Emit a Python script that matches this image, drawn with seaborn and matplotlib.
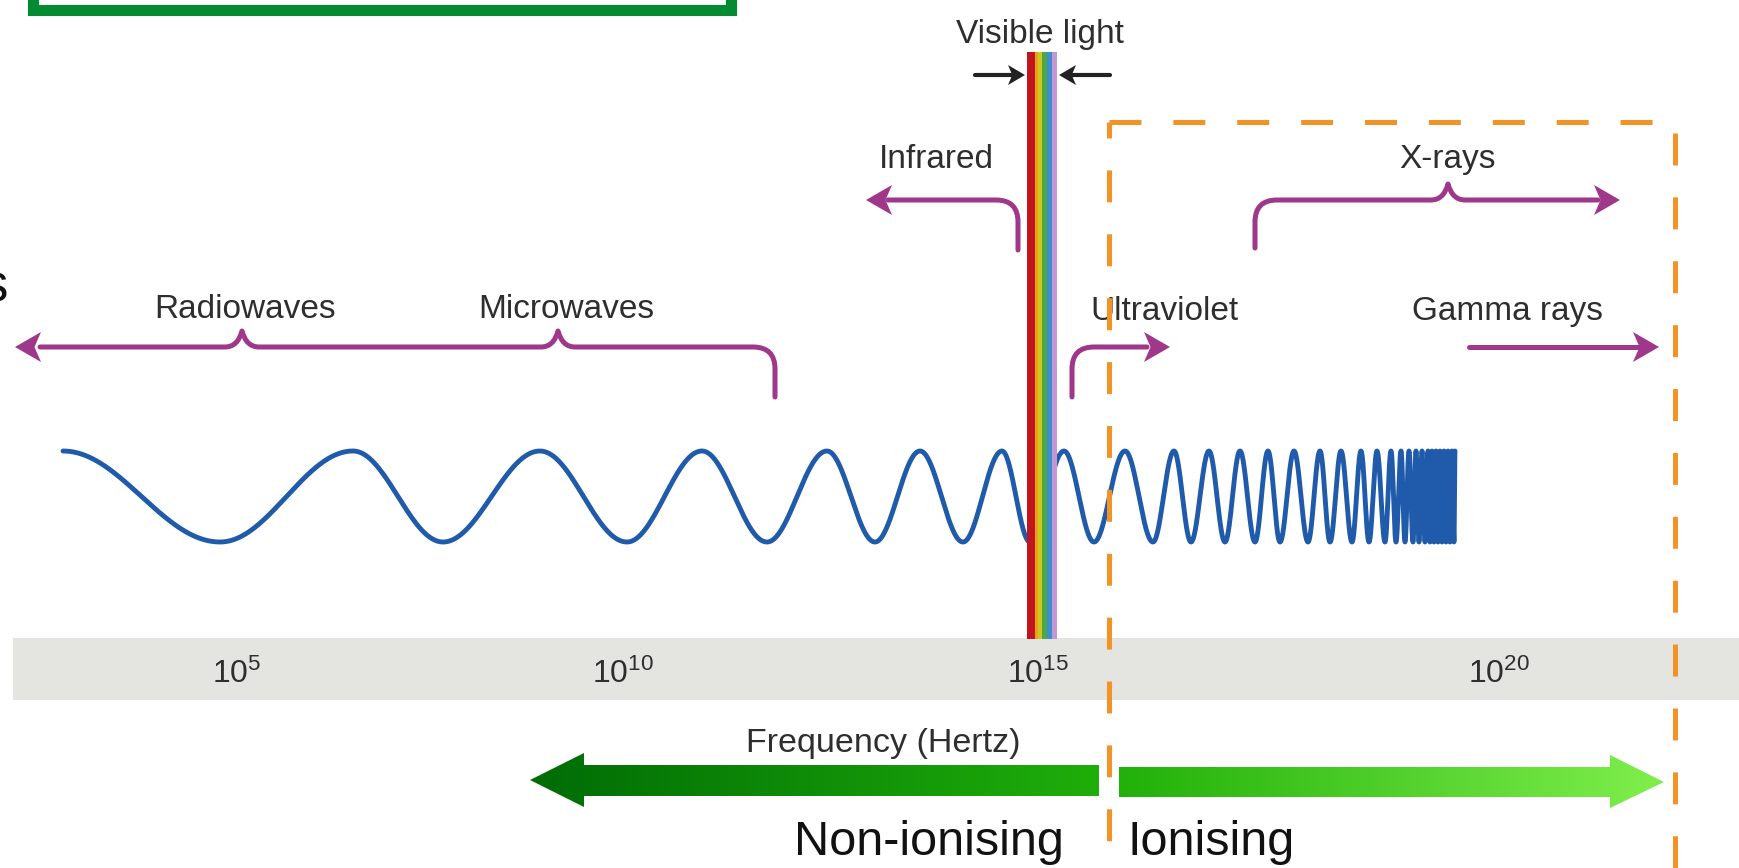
import numpy as np
import pandas as pd
import matplotlib
matplotlib.use("Agg")
import matplotlib.pyplot as plt
import seaborn as sns
from matplotlib.path import Path
from matplotlib.patches import PathPatch, Polygon, Rectangle
from matplotlib.colors import LinearSegmentedColormap

# --- content ---
tick_exponents = [5, 10, 15, 20]
band_names = ["Radiowaves", "Microwaves", "Infrared", "Visible light",
              "Ultraviolet", "X-rays", "Gamma rays"]
visible_colors = ["#C1141C", "#E8A219", "#CFC71E", "#4FA843", "#3A8ED4", "#C596D0"]
visible_widths = [8, 3, 4, 5, 5, 5]
# x of successive crests / troughs of the drawn wave (pixels)
wave_extrema_x = [63, 220, 353, 443, 540, 627, 702, 767, 827, 875, 920, 963,
                  1002, 1030, 1064, 1094, 1125, 1153, 1174, 1191, 1209, 1225,
                  1240, 1255, 1268, 1280, 1294, 1308, 1320, 1330, 1341, 1352,
                  1361, 1369, 1377, 1385, 1391, 1396, 1401, 1405, 1409, 1413,
                  1416, 1419, 1422, 1425, 1428, 1430, 1432, 1434, 1436, 1438,
                  1440, 1442, 1444, 1446, 1448, 1450, 1452, 1454, 1455]
region_names = ["Non-ionising", "Ionising"]
axis_title = "Frequency (Hertz)"

# --- layout (pixel space of the 1739x868 picture) ---
W, H = 1739, 868
tick_x = [237, 623, 1038, 1499]
label_x = [245, 566, 936, 1040, 1164, 1448, 1508]
label_base = [318, 318, 168, 43, 320, 168, 320]

MAGENTA = "#9F378B"
BLUE = "#1F5BAA"
ORANGE = "#F39325"
TEXT = "#2e2e2e"

sns.set_theme(style="white")
plt.rcParams["font.family"] = ["Liberation Sans", "DejaVu Sans"]
plt.rcParams["mathtext.fontset"] = "custom"
plt.rcParams["mathtext.rm"] = "Liberation Sans"
plt.rcParams["lines.scale_dashes"] = False

fig = plt.figure(figsize=(W / 100, H / 100), dpi=100)
ax = fig.add_axes([0, 0, 1, 1])
ax.axis("off")


def head(tip, d, length=26, half=15, color=MAGENTA, z=4):
    tx, ty = tip
    pts = [(tx, ty), (tx - d * length, ty - half), (tx - d * 0.75 * length, ty),
           (tx - d * length, ty + half)]
    ax.add_patch(Polygon(pts, closed=True, fc=color, ec="none", zorder=z))


def bracket(y, x0, x1, notches=(), drop_left=None, drop_right=None, r=22, h=16, w=17):
    M, L, C = Path.MOVETO, Path.LINETO, Path.CURVE3
    v, c = [], []
    if drop_left is not None:
        v += [(x0, drop_left), (x0, y + r), (x0, y), (x0 + r, y)]
        c += [M, L, C, C]
    else:
        v += [(x0, y)]
        c += [M]
    for xc in notches:
        v += [(xc - w, y), (xc - w / 4, y), (xc, y - h), (xc + w / 4, y), (xc + w, y)]
        c += [L, C, C, C, C]
    if drop_right is not None:
        v += [(x1 - r, y), (x1, y), (x1, y + r), (x1, drop_right)]
        c += [L, C, C, L]
    else:
        v += [(x1, y)]
        c += [L]
    ax.add_patch(PathPatch(Path(v, c), fc="none", ec=MAGENTA, lw=3.6,
                           capstyle="round", joinstyle="round", zorder=4))


# green frame at the top
ax.add_patch(Rectangle((33, -40), 698, 49.5, fill=False, ec="#048A31", lw=8, zorder=5))
ax.text(8, 301, "s", fontsize=38, color="#111111", ha="right", va="baseline")

# frequency band
ax.add_patch(Rectangle((13, 638), W - 13, 62, fc="#E4E4E0", ec="none", zorder=1))
for e, x in zip(tick_exponents, tick_x):
    ax.text(x, 683, f"$\\mathregular{{10^{{{e}}}}}$", fontsize=23, color=TEXT,
            ha="center", va="baseline", zorder=3)

# wave
xs = np.linspace(wave_extrema_x[0], wave_extrema_x[-1], 20000)
phase = np.interp(xs, wave_extrema_x, np.arange(len(wave_extrema_x))) * np.pi
wave = pd.DataFrame({"x": xs, "y": 496.5 - 45.5 * np.cos(phase)})
sns.lineplot(data=wave, x="x", y="y", sort=False, estimator=None, color=BLUE,
             linewidth=3.5, ax=ax, zorder=2)

# visible light strip
x = 1027
for col, wd in zip(visible_colors, visible_widths):
    ax.add_patch(Rectangle((x, 52), wd, 587, fc=col, ec="none", zorder=3))
    x += wd
for tail, tip, d in [(975, 1025, 1), (1110, 1059, -1)]:
    ax.plot([tail, tip - d * 12], [75, 75], color="#222222", lw=3, zorder=4)
    head((tip, 75), d, length=17, half=10, color="#222222")

# band labels
for name, lx, ly in zip(band_names, label_x, label_base):
    ax.text(lx, ly, name, fontsize=24, color=TEXT, ha="center", va="baseline", zorder=3)

# brackets and arrows
bracket(347, 40, 775, notches=[242, 558], drop_right=397)
head((15, 347), -1)
bracket(200, 888, 1018, drop_right=250)
head((866, 200), -1)
bracket(200, 1255, 1598, notches=[1448], drop_left=248)
head((1620, 200), 1)
bracket(347, 1072, 1147, drop_left=397)
head((1170, 347), 1)
ax.plot([1469, 1640], [347, 347], color=MAGENTA, lw=3.6, solid_capstyle="round", zorder=4)
head((1659, 347), 1)

# frequency arrows with gradients
ax.text(883, 752, axis_title, fontsize=24.5, color=TEXT, ha="center", va="baseline")
arrows = [
    ([(530, 780), (584, 753), (584, 765), (1099, 765), (1099, 796), (584, 796), (584, 807)],
     530, 1099, ["#006C05", "#1FAE0A"]),
    ([(1119, 767), (1610, 767), (1610, 755), (1664, 782), (1610, 808), (1610, 797), (1119, 797)],
     1119, 1664, ["#22B00A", "#80EF4C"]),
]
for pts, x0, x1, cols in arrows:
    poly = Polygon(pts, closed=True, fc="none", ec="none")
    ax.add_patch(poly)
    cmap = LinearSegmentedColormap.from_list("g", cols)
    im = ax.imshow(np.linspace(0, 1, 256).reshape(1, -1), cmap=cmap, aspect="auto",
                   extent=(x0, x1, 810, 750), zorder=3)
    im.set_clip_path(poly)

ax.text(1064, 855, region_names[0], fontsize=35, color="#111111", ha="right", va="baseline")
ax.text(1128, 855, region_names[1], fontsize=35, color="#111111", ha="left", va="baseline")

# orange dashed box
dash = (23, 23)
ax.plot([1109, 1675], [122, 122], color=ORANGE, lw=3.6, linestyle=(0, dash),
        dash_capstyle="butt", zorder=6)
ax.plot([1109, 1109], [122, H + 20], color=ORANGE, lw=3.6, linestyle=(11.5, dash),
        dash_capstyle="butt", zorder=6)
ax.plot([1675, 1675], [133, H + 20], color=ORANGE, lw=3.6, linestyle=(0, dash),
        dash_capstyle="butt", zorder=6)

ax.set_xlim(0, W)
ax.set_ylim(H, 0)
fig.savefig("out.png", dpi=100)
plt.close(fig)
